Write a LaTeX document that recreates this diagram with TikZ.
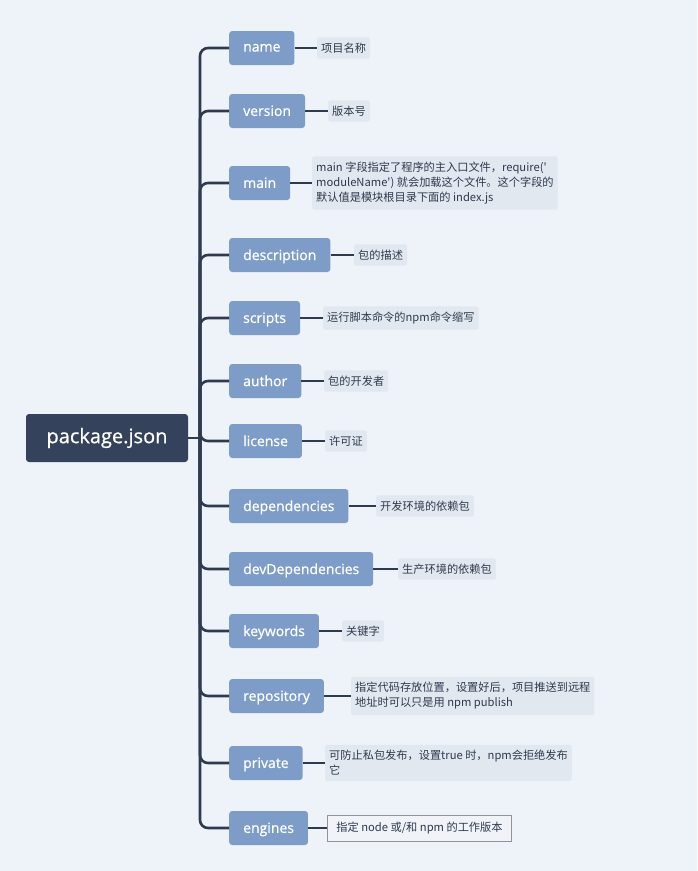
\documentclass[tikz,border=0pt]{standalone}
\usepackage{fontspec}
\setmainfont{Open Sans}
\newfontfamily\keyfont{Open Sans}[FakeBold=0.7]
\newfontfamily\cjk{Noto Sans CJK SC}
\usetikzlibrary{positioning}

\definecolor{bgcol}{HTML}{EEF3F9}
\definecolor{rootcol}{HTML}{34435B}
\definecolor{keycol}{HTML}{7D9DC8}
\definecolor{desccol}{HTML}{E2E8F0}
\definecolor{linecol}{HTML}{2E3A4D}

\tikzset{
  root/.style={fill=rootcol, text=white, rounded corners=3pt, minimum width=162pt, minimum height=48pt, font=\keyfont\fontsize{20}{24}\selectfont},
  key/.style={fill=keycol, text=white, rounded corners=3pt, anchor=west, minimum height=34pt, inner xsep=14pt, text depth=0.5pt, font=\keyfont\fontsize{14}{17}\selectfont},
  desc/.style={fill=desccol, text=linecol, rounded corners=2pt, anchor=west, inner xsep=4pt, inner ysep=5.5pt, align=left, font=\cjk\fontsize{11.2}{15}\selectfont},
  branch/.style={draw=linecol, line width=2.6pt, rounded corners=8pt},
  leaf/.style={draw=linecol, line width=1.6pt}
}

\begin{document}
\begin{tikzpicture}[x=1pt, y=-1pt]
	\fill[bgcol] (0,0) rectangle (697,871);
	\useasboundingbox (0,0) rectangle (697,871);
	\node[root] (P) at (107,438) {package.json};
	\coordinate (J) at (200,438);
	\node[key] (K1) at (229,48) {name};
	\node[key] (K2) at (229,111) {version};
	\node[key] (K3) at (229,183) {main};
	\node[key] (K4) at (229,255) {description};
	\node[key] (K5) at (229,318) {scripts};
	\node[key] (K6) at (229,381) {author};
	\node[key] (K7) at (229,441) {license};
	\node[key] (K8) at (229,506) {dependencies};
	\node[key] (K9) at (229,569) {devDependencies};
	\node[key] (K10) at (229,631) {keywords};
	\node[key] (K11) at (229,696) {repository};
	\node[key] (K12) at (229,763) {private};
	\node[key] (K13) at (229,828) {engines};
	\node[desc] (D1) at (317,48) {项目名称};
	\node[desc] (D2) at (328,111) {版本号};
	\node[desc] (D3) at (312,183) {main 字段指定了程序的主入口文件，require('\\moduleName') 就会加载这个文件。这个字段的\\默认值是模块根目录下面的 index.js};
	\node[desc] (D4) at (354,255) {包的描述};
	\node[desc] (D5) at (323,318) {运行脚本命令的npm命令缩写};
	\node[desc] (D6) at (324,381) {包的开发者};
	\node[desc] (D7) at (325,441) {许可证};
	\node[desc] (D8) at (376,506) {开发环境的依赖包};
	\node[desc] (D9) at (398,569) {生产环境的依赖包};
	\node[desc] (D10) at (342,631) {关键字};
	\node[desc] (D11) at (351,696) {指定代码存放位置，设置好后，项目推送到远程\\地址时可以只是用 npm publish};
	\node[desc] (D12) at (325,763) {可防止私包发布，设置true 时，npm会拒绝发布\\它};
	\node[desc, draw=gray!85, fill=desccol!50, rounded corners=0pt, line width=0.9pt, inner xsep=9pt, inner ysep=7pt] (D13) at (327,828) {指定 node 或/和 npm 的工作版本};
	\draw[branch] (P) -- (J);
	\draw[branch] (J) |- (K1);
	\draw[branch] (J) |- (K2);
	\draw[branch] (J) |- (K3);
	\draw[branch] (J) |- (K4);
	\draw[branch] (J) |- (K5);
	\draw[branch] (J) |- (K6);
	\draw[branch] (J) |- (K7);
	\draw[branch] (J) |- (K8);
	\draw[branch] (J) |- (K9);
	\draw[branch] (J) |- (K10);
	\draw[branch] (J) |- (K11);
	\draw[branch] (J) |- (K12);
	\draw[branch] (J) |- (K13);
	\draw[leaf] (K1) -- (D1);
	\draw[leaf] (K2) -- (D2);
	\draw[leaf] (K3) -- (D3);
	\draw[leaf] (K4) -- (D4);
	\draw[leaf] (K5) -- (D5);
	\draw[leaf] (K6) -- (D6);
	\draw[leaf] (K7) -- (D7);
	\draw[leaf] (K8) -- (D8);
	\draw[leaf] (K9) -- (D9);
	\draw[leaf] (K10) -- (D10);
	\draw[leaf] (K11) -- (D11);
	\draw[leaf] (K12) -- (D12);
	\draw[leaf] (K13) -- (D13);
\end{tikzpicture}
\end{document}
